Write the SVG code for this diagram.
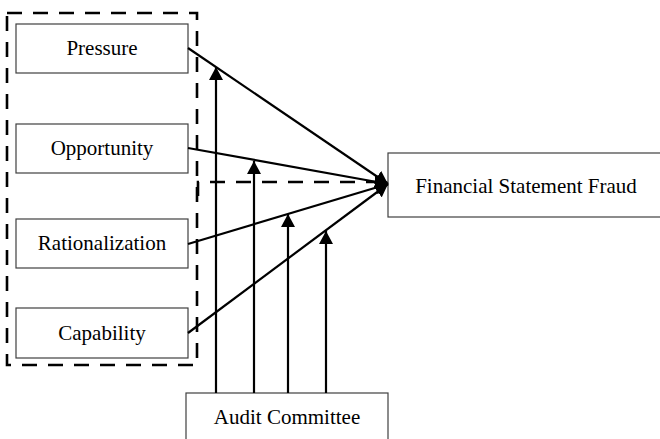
<svg xmlns="http://www.w3.org/2000/svg" width="660" height="439" viewBox="0 0 660 439">
<style>
.box{fill:#fff;stroke:#404040;stroke-width:1.2}
.lbl{font-family:'Liberation Serif','DejaVu Serif',serif;font-size:21px;fill:#000;text-anchor:middle}
.ln{stroke:#000;stroke-width:2.2;fill:none}
.dash{stroke:#000;stroke-width:2.6;fill:none;stroke-dasharray:15 11}
</style>
<defs>
<marker id="ah" markerUnits="userSpaceOnUse" markerWidth="14" markerHeight="14" viewBox="0 0 14 14" refX="13" refY="7" orient="auto">
<path d="M0,0 L13,7 L0,14 z" fill="#000"/>
</marker>
</defs>
<rect width="660" height="439" fill="#fff"/>
<g id="group-box">
<rect x="7" y="13" width="190" height="352" class="dash"/>
</g>
<g id="pressure"><rect class="box" x="16" y="24" width="172" height="49"/><text class="lbl" font-family="Liberation Serif, serif" x="102" y="55">Pressure</text></g>
<g id="opportunity"><rect class="box" x="16" y="124" width="172" height="49"/><text class="lbl" font-family="Liberation Serif, serif" x="102" y="155">Opportunity</text></g>
<g id="rationalization"><rect class="box" x="16" y="219" width="172" height="49"/><text class="lbl" font-family="Liberation Serif, serif" x="102" y="250">Rationalization</text></g>
<g id="capability"><rect class="box" x="16" y="308" width="172" height="50"/><text class="lbl" font-family="Liberation Serif, serif" x="102" y="340">Capability</text></g>
<g id="fraud"><rect class="box" x="388" y="153" width="280" height="64"/><text class="lbl" font-family="Liberation Serif, serif" x="526" y="193">Financial Statement Fraud</text></g>
<g id="audit"><rect class="box" x="186" y="393" width="202" height="52"/><text class="lbl" font-family="Liberation Serif, serif" x="287" y="424">Audit Committee</text></g>
<g id="connectors">
<line class="ln" x1="188" y1="48" x2="388" y2="184" marker-end="url(#ah)"/>
<line class="ln" x1="188" y1="148" x2="388" y2="184" marker-end="url(#ah)"/>
<line class="ln" x1="188" y1="244" x2="388" y2="184" marker-end="url(#ah)"/>
<line class="ln" x1="188" y1="333" x2="388" y2="184" marker-end="url(#ah)"/>
<path class="dash" d="M198 196 V182 H388" marker-end="url(#ah)"/>
<line class="ln" x1="216" y1="393" x2="216" y2="67" marker-end="url(#ah)"/>
<line class="ln" x1="254" y1="393" x2="254" y2="161" marker-end="url(#ah)"/>
<line class="ln" x1="288" y1="393" x2="288" y2="214" marker-end="url(#ah)"/>
<line class="ln" x1="326" y1="393" x2="326" y2="231" marker-end="url(#ah)"/>
</g>
</svg>
